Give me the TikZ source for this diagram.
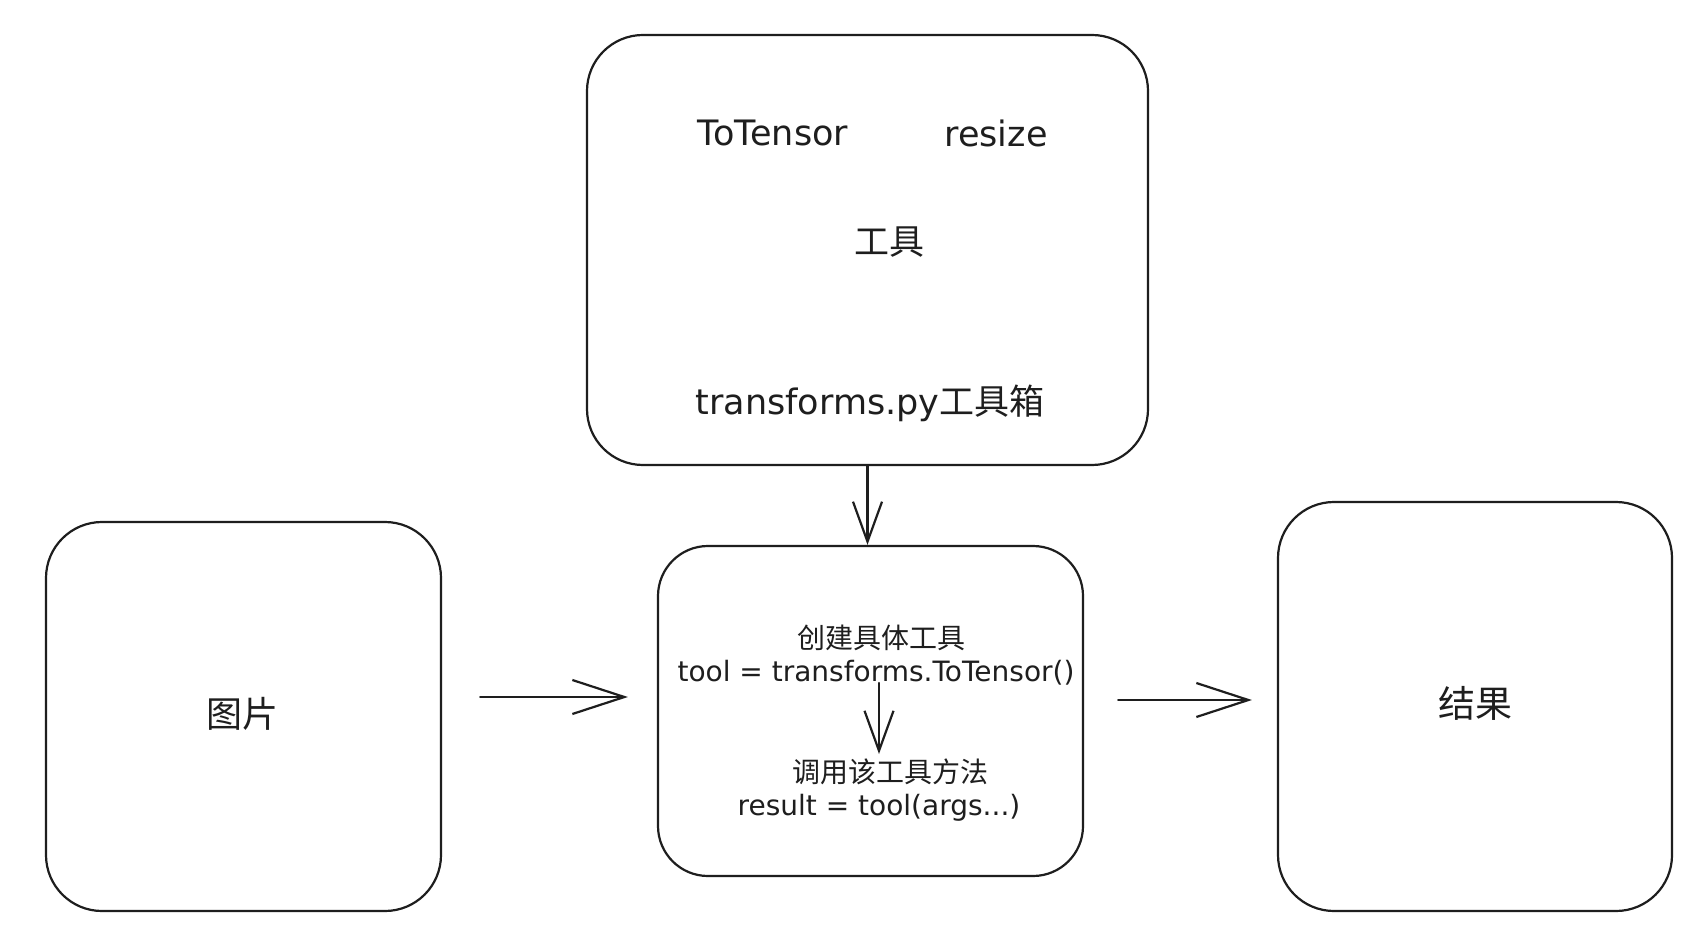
\documentclass[tikz,border=0pt]{standalone}
\usepackage{fontspec}
\setmainfont{Noto Sans CJK SC}
\newfontfamily\lat{DejaVu Sans}
\usetikzlibrary{arrows.meta,calc}
\definecolor{ink}{HTML}{1E1E1E}
\begin{document}
\begin{tikzpicture}[x=0.5pt,y=-0.5pt,
  box/.style={draw=ink,line width=1.1pt,rounded corners=28pt,inner sep=0pt},
  lbl/.style={inner sep=0pt,text=ink},
  big/.style={lbl,font=\fontsize{17.5pt}{21pt}\selectfont},
  small/.style={lbl,font=\fontsize{14pt}{17pt}\selectfont},
  arr/.style={draw=ink,line width=1.1pt,line cap=round},
  hhead/.style={-{Straight Barb[length=26pt,width=17pt,line width=1.1pt]}},
  vhead/.style={-{Straight Barb[length=20pt,width=14.5pt,line width=1.1pt]}}
]
\useasboundingbox[fill=white] (0,0) rectangle (1706,946);

% boxes
\node[box,minimum width=280.5pt,minimum height=215pt] (tools) at (867.5,250) {};
\node[box,minimum width=212.5pt,minimum height=165pt,rounded corners=25pt] (mid) at (870.5,711) {};
\node[box,minimum width=197.5pt,minimum height=194.5pt] (pic) at (243.5,716.5) {};
\node[box,minimum width=197pt,minimum height=204.5pt] (res) at (1475,706.5) {};

% texts in top box
\node[big] (tt) at (773,133) {\lat ToTensor};
\node[big] (rs) at (996,133) {\lat resize};
\node[big] (gj) at (889,242) {工具};
\node[big] (tp) at (870,403) {{\lat transforms.py}工具箱};

% texts in middle box
\node[small] (c1) at (881,638) {创建具体工具};
\node[small] (c2) at (876,673) {\lat tool = transforms.ToTensor()};
\node[small] (c3) at (890,772) {调用该工具方法};
\node[small] (c4) at (879,808) {\lat result = tool(args...)};

% side labels
\node[lbl,font=\fontsize{18pt}{21pt}\selectfont] (pt) at (242,714) {图片};
\node[lbl,font=\fontsize{18.5pt}{22pt}\selectfont] (rt) at (1475,703) {结果};

% connectors
\draw[arr,vhead] (tools.south) -- (tools.south |- mid.north);
\draw[arr,vhead] ($(c2.center)+(3,10)$) -- ($(c3.center)+(-11,-18)$);
\draw[arr,hhead] ($(pic.east)+(38,-19.5)$) -- ($(mid.west)+(-29,-14)$);
\draw[arr,hhead] ($(mid.east)+(34,-11)$) -- ($(res.west)+(-25,-6.5)$);
\end{tikzpicture}
\end{document}
